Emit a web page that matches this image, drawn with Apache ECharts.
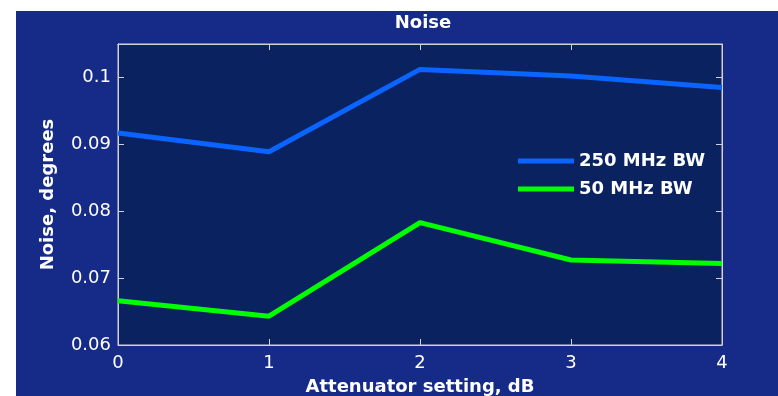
<!DOCTYPE html>
<html><head><meta charset="utf-8">
<script src="https://cdn.jsdelivr.net/npm/echarts@6/dist/echarts.min.js"></script>
<style>
html,body{margin:0;padding:0;background:#ffffff;width:778px;height:396px;overflow:hidden;}
#chart{position:absolute;left:16px;top:11px;width:762px;height:385px;}
</style></head>
<body><div id="chart"></div>
<script>
var attenuation = [0, 1, 2, 3, 4];
var noise250 = [0.0917, 0.0889, 0.1012, 0.1002, 0.0985];
var noise50 = [0.0666, 0.0643, 0.0783, 0.0727, 0.0722];
var seriesNames = ['250 MHz BW', '50 MHz BW'];
var yTicks = [0.06, 0.07, 0.08, 0.09, 0.1];
var titleText = 'Noise';
var xName = 'Attenuator setting, dB';
var yName = 'Noise, degrees';

function pairs(xs, ys){ return xs.map(function(x,i){ return [x, ys[i]]; }); }

var font = 'DejaVu Sans';
var axisCol = '#d0d0d8';
var chart = echarts.init(document.getElementById('chart'));
chart.setOption({
  backgroundColor: '#162a88',
  animation: false,
  title: {
    text: titleText, left: 402, top: -2, textAlign: 'center',
    textStyle: {color: '#ffffff', fontFamily: font, fontWeight: 'bold', fontSize: 18}
  },
  legend: {
    orient: 'vertical', left: 497, top: 135,
    icon: 'rect',
    itemWidth: 56, itemHeight: 5, itemGap: 8, itemTextGap: 6,
    data: seriesNames,
    textStyle: {color: '#ffffff', fontFamily: font, fontWeight: 'bold', fontSize: 18, lineHeight: 20}
  },
  grid: {
    left: 102, top: 33, right: 56, bottom: 51,
    outerBoundsMode: 'none', containLabel: false,
    show: true, backgroundColor: '#0a2260', borderColor: axisCol, borderWidth: 1
  },
  xAxis: [{
    type: 'value', min: 0, max: 4, interval: 1, position: 'bottom',
    name: xName, nameLocation: 'middle', nameGap: 33,
    nameTextStyle: {color: '#ffffff', fontFamily: font, fontWeight: 'bold', fontSize: 18},
    axisLine: {show: true, onZero: false, lineStyle: {color: axisCol, width: 1}},
    axisTick: {show: true, inside: true, length: 6, lineStyle: {color: axisCol}},
    axisLabel: {color: '#ffffff', fontFamily: font, fontSize: 18, margin: 9},
    splitLine: {show: false}
  }, {
    type: 'value', min: 0, max: 4, interval: 1, position: 'top',
    axisLine: {show: true, onZero: false, lineStyle: {color: axisCol, width: 1}},
    axisTick: {show: true, inside: true, length: 6, lineStyle: {color: axisCol}},
    axisLabel: {show: false}, splitLine: {show: false}
  }],
  yAxis: [{
    type: 'value', min: 0.06, max: 0.105, interval: 0.01, position: 'left',
    name: yName, nameLocation: 'middle', nameGap: 61,
    nameTextStyle: {color: '#ffffff', fontFamily: font, fontWeight: 'bold', fontSize: 18},
    axisLine: {show: true, onZero: false, lineStyle: {color: axisCol, width: 1}},
    axisTick: {show: true, inside: true, length: 6, lineStyle: {color: axisCol}},
    axisLabel: {
      color: '#ffffff', fontFamily: font, fontSize: 18, margin: 7,
      formatter: function(v){
        for (var i = 0; i < yTicks.length; i++) { if (Math.abs(v - yTicks[i]) < 1e-9) return String(yTicks[i]); }
        return '';
      }
    },
    splitLine: {show: false}
  }, {
    type: 'value', min: 0.06, max: 0.105, interval: 0.01, position: 'right',
    axisLine: {show: true, onZero: false, lineStyle: {color: axisCol, width: 1}},
    axisTick: {show: true, inside: true, length: 6, lineStyle: {color: axisCol}},
    axisLabel: {show: false}, splitLine: {show: false}
  }],
  series: [{
    name: seriesNames[0], type: 'line', data: pairs(attenuation, noise250),
    showSymbol: false, symbol: 'none', color: '#0a64ff',
    itemStyle: {color: '#0a64ff'},
    lineStyle: {width: 5, color: '#0a64ff'}
  }, {
    name: seriesNames[1], type: 'line', data: pairs(attenuation, noise50),
    showSymbol: false, symbol: 'none', color: '#00ff00',
    itemStyle: {color: '#00ff00'},
    lineStyle: {width: 5, color: '#00ff00'}
  }]
});
</script></body></html>
